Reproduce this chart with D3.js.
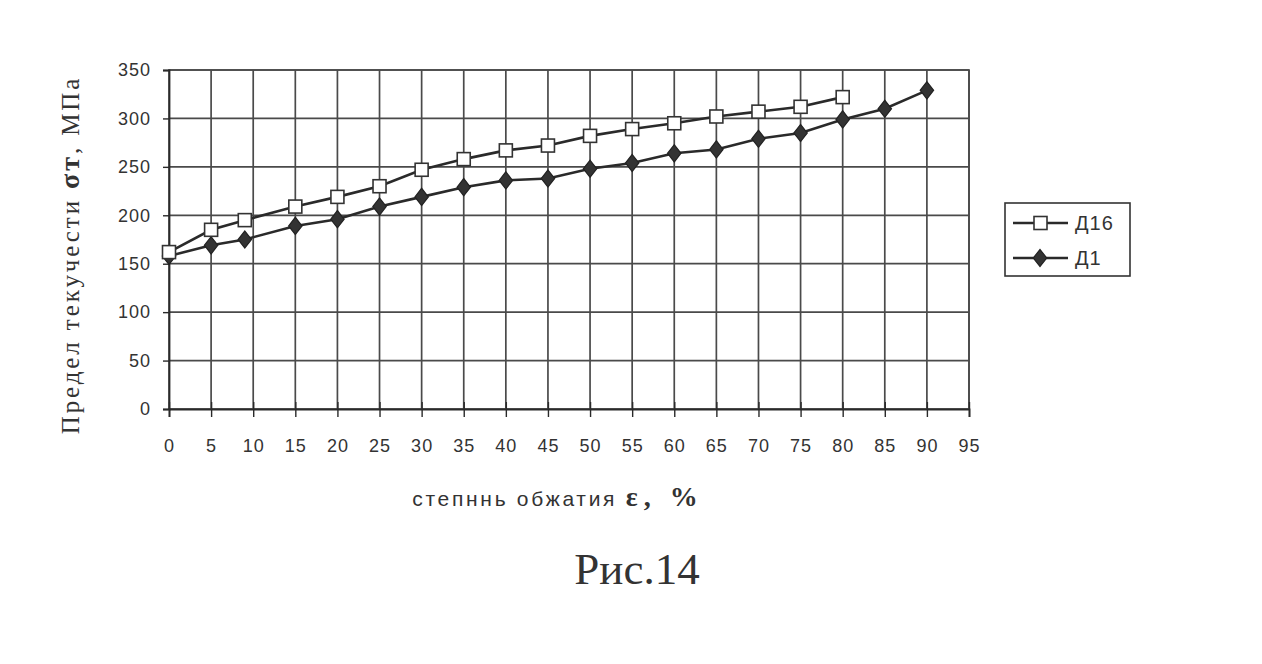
<!DOCTYPE html>
<html>
<head>
<meta charset="utf-8">
<script src="https://cdn.jsdelivr.net/npm/d3@7"></script>
<style>
  html, body { margin: 0; padding: 0; background: #fff; }
  svg { display: block; }
</style>
</head>
<body>
<svg id="chart" width="1262" height="664"></svg>
<script>
// ---- data ----
const xTicks = [0,5,10,15,20,25,30,35,40,45,50,55,60,65,70,75,80,85,90,95];
const yTicks = [0,50,100,150,200,250,300,350];

const d16X = [0,5,9,15,20,25,30,35,40,45,50,55,60,65,70,75,80];
const d16Y = [162,185,195,209,219,230,247,258,267,272,282,289,295,302,307,312,322];

const d1X = [0,5,9,15,20,25,30,35,40,45,50,55,60,65,70,75,80,85,90];
const d1Y = [158,169,175,189,196,209,219,229,236,238,248,254,264,268,279,285,299,310,329];

const seriesNames = ["Д16", "Д1"];

// ---- layout ----
(function () {
const svg = d3.select("#chart");
const pL = 169, pR = 969, pT = 70, pB = 409;
const ink = "#2a2a2a";
const sans = "'Liberation Sans', Arial, sans-serif";
const serif = "'Liberation Serif', 'Times New Roman', serif";

const x = d3.scaleLinear().domain([0, 95]).range([pL, pR]);
const y = d3.scaleLinear().domain([0, 350]).range([pB, pT]);

// gridlines
const g = svg.append("g");
g.selectAll("line.vg").data(xTicks.slice(1)).enter().append("line")
  .attr("x1", d => x(d)).attr("x2", d => x(d))
  .attr("y1", pT).attr("y2", pB)
  .attr("stroke", "#4a4a4a").attr("stroke-width", 1.7);
g.selectAll("line.hg").data(yTicks.slice(1)).enter().append("line")
  .attr("x1", pL).attr("x2", pR)
  .attr("y1", d => y(d)).attr("y2", d => y(d))
  .attr("stroke", "#4a4a4a").attr("stroke-width", 1.7);
g.append("rect").attr("x", pL).attr("y", pT)
  .attr("width", pR - pL).attr("height", pB - pT)
  .attr("fill", "none").attr("stroke", "#4a4a4a").attr("stroke-width", 1.7);

// axes
const xAxis = d3.axisBottom(x).tickValues(xTicks).tickSize(8).tickPadding(22)
  .tickFormat(d3.format("d"));
const gx = svg.append("g").attr("transform", `translate(0,${pB})`).call(xAxis);
gx.select(".domain").attr("stroke", ink).attr("stroke-width", 1.8);
gx.selectAll(".tick line").attr("stroke", ink).attr("stroke-width", 1.4)
  .attr("y1", -7);
gx.selectAll(".tick text").attr("fill", "#333")
  .style("font-family", sans).style("font-size", "18px").style("letter-spacing", "1px");

const yAxis = d3.axisLeft(y).tickValues(yTicks).tickSize(6).tickPadding(12)
  .tickFormat(d3.format("d"));
const gy = svg.append("g").attr("transform", `translate(${pL},0)`).call(yAxis);
gy.select(".domain").attr("stroke", ink).attr("stroke-width", 1.8);
gy.selectAll(".tick line").attr("stroke", ink).attr("stroke-width", 1.4).attr("x2", -6);
gy.selectAll(".tick text").attr("fill", "#333")
  .style("font-family", sans).style("font-size", "18px").style("letter-spacing", "1px");

// lines
const line = d3.line().x(d => x(d[0])).y(d => y(d[1]));
const d16 = d16X.map((v, i) => [v, d16Y[i]]);
const d1 = d1X.map((v, i) => [v, d1Y[i]]);

svg.append("path").datum(d16).attr("d", line)
  .attr("fill", "none").attr("stroke", ink).attr("stroke-width", 2.6);
svg.append("path").datum(d1).attr("d", line)
  .attr("fill", "none").attr("stroke", ink).attr("stroke-width", 2.6);

// markers
const diamond = d3.symbol().type(d3.symbolDiamond).size(85);
svg.append("g").selectAll("path").data(d1).enter().append("path")
  .attr("d", diamond)
  .attr("transform", d => `translate(${x(d[0])},${y(d[1])}) scale(1.35,1)`)
  .attr("fill", "#333").attr("stroke", "#222").attr("stroke-width", 1);
svg.append("g").selectAll("rect").data(d16).enter().append("rect")
  .attr("x", d => x(d[0]) - 6.5).attr("y", d => y(d[1]) - 6.5)
  .attr("width", 13).attr("height", 13)
  .attr("fill", "#fff").attr("stroke", "#333").attr("stroke-width", 1.6);

// legend
const lg = svg.append("g");
lg.append("rect").attr("x", 1005).attr("y", 203).attr("width", 125).attr("height", 73)
  .attr("fill", "#fff").attr("stroke", "#333").attr("stroke-width", 1.6);
const legY = [223, 258];
seriesNames.forEach((name, i) => {
  lg.append("line").attr("x1", 1013).attr("x2", 1068).attr("y1", legY[i]).attr("y2", legY[i])
    .attr("stroke", ink).attr("stroke-width", 2.6);
  if (i === 0) {
    lg.append("rect").attr("x", 1034).attr("y", legY[i] - 6.5).attr("width", 13).attr("height", 13)
      .attr("fill", "#fff").attr("stroke", "#333").attr("stroke-width", 1.6);
  } else {
    lg.append("path").attr("d", diamond)
      .attr("transform", `translate(1040,${legY[i]}) scale(1.35,1)`)
      .attr("fill", "#333").attr("stroke", "#222");
  }
  lg.append("text").attr("x", 1075).attr("y", legY[i] + 7).text(name)
    .attr("fill", "#333")
    .style("font-family", sans).style("font-size", "20px").style("letter-spacing", "1px");
});

// axis titles
const xt = svg.append("text").attr("x", 558).attr("y", 506).attr("text-anchor", "middle")
  .attr("fill", "#333").style("font-family", sans)
  .style("font-size", "21px").style("letter-spacing", "2.7px");
xt.append("tspan").text("степннь обжатия  ");
xt.append("tspan").text("ε, %").style("font-family", serif)
  .style("font-weight", "bold").style("font-size", "28px").style("letter-spacing", "6px");

const yt = svg.append("text").attr("transform", "translate(79,255) rotate(-90)")
  .attr("text-anchor", "middle").attr("fill", "#333")
  .style("font-family", serif).style("font-size", "25px").style("letter-spacing", "2.9px");
yt.append("tspan").text("Предел текучести  ");
yt.append("tspan").text("σт").style("font-weight", "bold").style("font-size", "28px");
yt.append("tspan").text(", МПа");

// caption
svg.append("text").attr("x", 637).attr("y", 584).attr("text-anchor", "middle")
  .attr("fill", "#333").style("font-family", serif)
  .style("font-size", "45px").text("Рис.14");
})();
</script>
</body>
</html>
